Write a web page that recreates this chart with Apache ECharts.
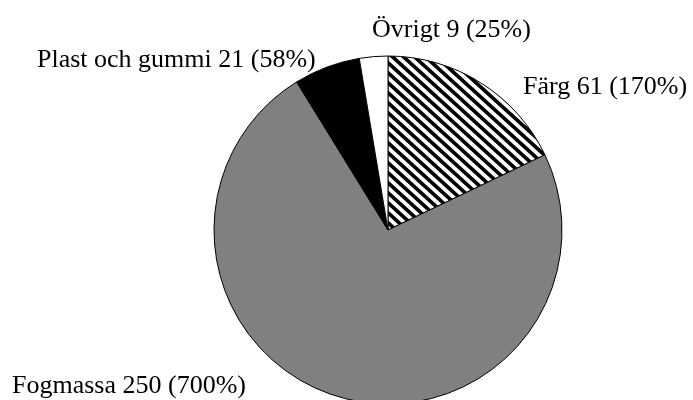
<!DOCTYPE html>
<html>
<head>
<meta charset="utf-8">
<script src="https://cdn.jsdelivr.net/npm/echarts@6/dist/echarts.min.js"></script>
<style>
html,body{margin:0;padding:0;background:#fff;}
#chart{width:693px;height:400px;}
</style>
</head>
<body>
<div id="chart"></div>
<script>
// Data
var categories = ['Färg', 'Fogmassa', 'Plast och gummi', 'Övrigt'];
var values = [61, 250, 21, 9];
var percentLabels = ['170%', '700%', '58%', '25%'];

// Label anchor positions (left x, vertical middle y)
var labelPos = [[523, 87], [12, 386], [37, 60], [372, 30]];

function hatch() {
  var w = 11, h = 10;
  var c = document.createElement('canvas');
  c.width = w; c.height = h;
  var g = c.getContext('2d');
  g.fillStyle = '#fff';
  g.fillRect(0, 0, w, h);
  g.strokeStyle = '#000';
  g.lineWidth = 3.6;
  g.beginPath();
  for (var k = -1; k <= 1; k++) {
    g.moveTo(k * w - w, -h);
    g.lineTo(k * w + 2 * w, 2 * h);
  }
  g.stroke();
  return c;
}

var fills = [{image: hatch(), repeat: 'repeat'}, '#808080', '#000000', '#ffffff'];

var chart = echarts.init(document.getElementById('chart'), null, {renderer: 'canvas'});
chart.setOption({
  animation: false,
  backgroundColor: '#fff',
  series: [{
    type: 'pie',
    center: [388, 230],
    radius: 174,
    startAngle: 90,
    clockwise: true,
    avoidLabelOverlap: false,
    data: categories.map(function (n, i) {
      return {name: n, value: values[i], itemStyle: {color: fills[i]}};
    }),
    itemStyle: {borderColor: '#000', borderWidth: 1},
    label: {
      show: true,
      position: 'outside',
      fontFamily: 'Liberation Serif',
      fontSize: 26,
      color: '#000',
      formatter: function (p) {
        return p.name + ' ' + p.value + ' (' + percentLabels[p.dataIndex] + ')';
      }
    },
    labelLine: {show: false},
    labelLayout: function (p) {
      var pos = labelPos[p.dataIndex];
      return {x: pos[0], y: pos[1], align: 'left', verticalAlign: 'middle'};
    },
    emphasis: {disabled: true}
  }]
});
</script>
</body>
</html>
